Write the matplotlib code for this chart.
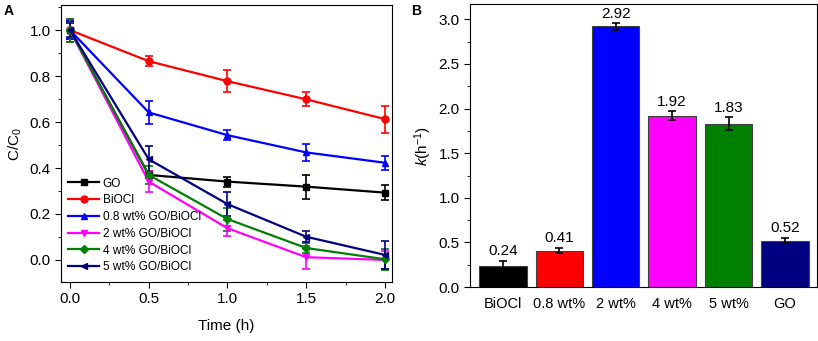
import matplotlib
matplotlib.use("Agg")
import matplotlib.pyplot as plt
import numpy as np
from matplotlib.ticker import MultipleLocator

plt.rcParams["font.family"] = ["Liberation Sans", "DejaVu Sans"]
plt.rcParams["mathtext.fontset"] = "custom"
plt.rcParams["mathtext.rm"] = "Liberation Sans"
plt.rcParams["mathtext.it"] = "Liberation Sans:italic"

# %% Panel A data: C/C0 vs time
time_h = [0.0, 0.5, 1.0, 1.5, 2.0]
series_names = ["GO", "BiOCl", "0.8 wt% GO/BiOCl", "2 wt% GO/BiOCl",
                "4 wt% GO/BiOCl", "5 wt% GO/BiOCl"]
go_c = [1.0, 0.37, 0.341, 0.319, 0.293]
go_err = [0.04, 0.015, 0.022, 0.052, 0.032]
biocl_c = [1.0, 0.865, 0.778, 0.699, 0.613]
biocl_err = [0.05, 0.022, 0.047, 0.031, 0.059]
wt08_c = [1.0, 0.642, 0.543, 0.468, 0.423]
wt08_err = [0.04, 0.05, 0.023, 0.037, 0.03]
wt2_c = [1.0, 0.341, 0.138, 0.012, 0.0]
wt2_err = [0.05, 0.045, 0.035, 0.05, 0.04]
wt4_c = [1.0, 0.37, 0.178, 0.052, 0.003]
wt4_err = [0.05, 0.04, 0.05, 0.02, 0.045]
wt5_c = [1.0, 0.438, 0.243, 0.101, 0.022]
wt5_err = [0.03, 0.058, 0.052, 0.025, 0.06]

# %% Panel B data: rate constants
bar_labels = ["BiOCl", "0.8 wt%", "2 wt%", "4 wt%", "5 wt%", "GO"]
k_values = [0.24, 0.41, 2.92, 1.92, 1.83, 0.52]
k_err = [0.055, 0.03, 0.035, 0.05, 0.07, 0.03]

line_colors = ["black", "#ff0000", "#0000ff", "#ff00ff", "#008000", "#000080"]
markers = ["s", "o", "^", "v", "D", "<"]
bar_colors = ["black", "#ff0000", "#0000ff", "#ff00ff", "#008000", "#000080"]

fig = plt.figure(figsize=(8.18, 3.41), dpi=100)
ax1 = fig.add_axes([0.0746, 0.173, 0.4046, 0.812])
ax2 = fig.add_axes([0.5746, 0.158, 0.4242, 0.830])

# %% Panel A
ys = [go_c, biocl_c, wt08_c, wt2_c, wt4_c, wt5_c]
errs = [go_err, biocl_err, wt08_err, wt2_err, wt4_err, wt5_err]
for name, y, e, c, m in zip(series_names, ys, errs, line_colors, markers):
    ms = 4 if m == "D" else 5
    ax1.errorbar(time_h, y, yerr=e, color=c, marker=m, markersize=ms,
                 linewidth=1.6, elinewidth=1.2, capsize=3, capthick=1.2,
                 label=name)

ax1.set_xlim(-0.057, 2.045)
ax1.set_ylim(-0.096, 1.109)
ax1.xaxis.set_major_locator(MultipleLocator(0.5))
ax1.xaxis.set_minor_locator(MultipleLocator(0.25))
ax1.yaxis.set_major_locator(MultipleLocator(0.2))
ax1.yaxis.set_minor_locator(MultipleLocator(0.1))
ax1.tick_params(which="both", direction="out", labelsize=11)
ax1.tick_params(which="major", length=4)
ax1.tick_params(which="minor", length=2)
ax1.set_xlabel("Time (h)", fontsize=11, labelpad=9)
ax1.set_ylabel("C/C$_0$", fontsize=11, labelpad=4)

handles, labels = ax1.get_legend_handles_labels()
handles = [h[0] for h in handles]
ax1.legend(handles, labels, loc="lower left", frameon=False, fontsize=8.6,
           handlelength=2.6, handletextpad=0.3, labelspacing=0.4,
           borderaxespad=0.2, bbox_to_anchor=(0.0, 0.005))

# %% Panel B
x = np.arange(len(bar_labels))
ax2.bar(x, k_values, width=0.84, color=bar_colors, edgecolor="#404040",
        linewidth=0.8, yerr=k_err, capsize=3,
        error_kw=dict(elinewidth=1.2, capthick=1.2, ecolor="black"))
for xi, v, e in zip(x, k_values, k_err):
    ax2.text(xi, v + e + 0.03, f"{v:.2f}", ha="center", va="bottom",
             fontsize=11)

ax2.set_xlim(-0.585, 5.57)
ax2.set_ylim(0, 3.17)
ax2.set_xticks(x)
ax2.set_xticklabels(bar_labels)
ax2.yaxis.set_major_locator(MultipleLocator(0.5))
ax2.yaxis.set_minor_locator(MultipleLocator(0.25))
ax2.tick_params(axis="x", length=0, labelsize=10.5, pad=7)
ax2.tick_params(axis="y", which="both", direction="out", labelsize=11)
ax2.tick_params(axis="y", which="major", length=4)
ax2.tick_params(axis="y", which="minor", length=2)
ax2.set_ylabel("$k$(h$^{-1}$)", fontsize=11, labelpad=3)

fig.text(0.004, 0.955, "A", fontsize=10, fontweight="bold")
fig.text(0.503, 0.955, "B", fontsize=10, fontweight="bold")

fig.savefig("out.png", dpi=100)
